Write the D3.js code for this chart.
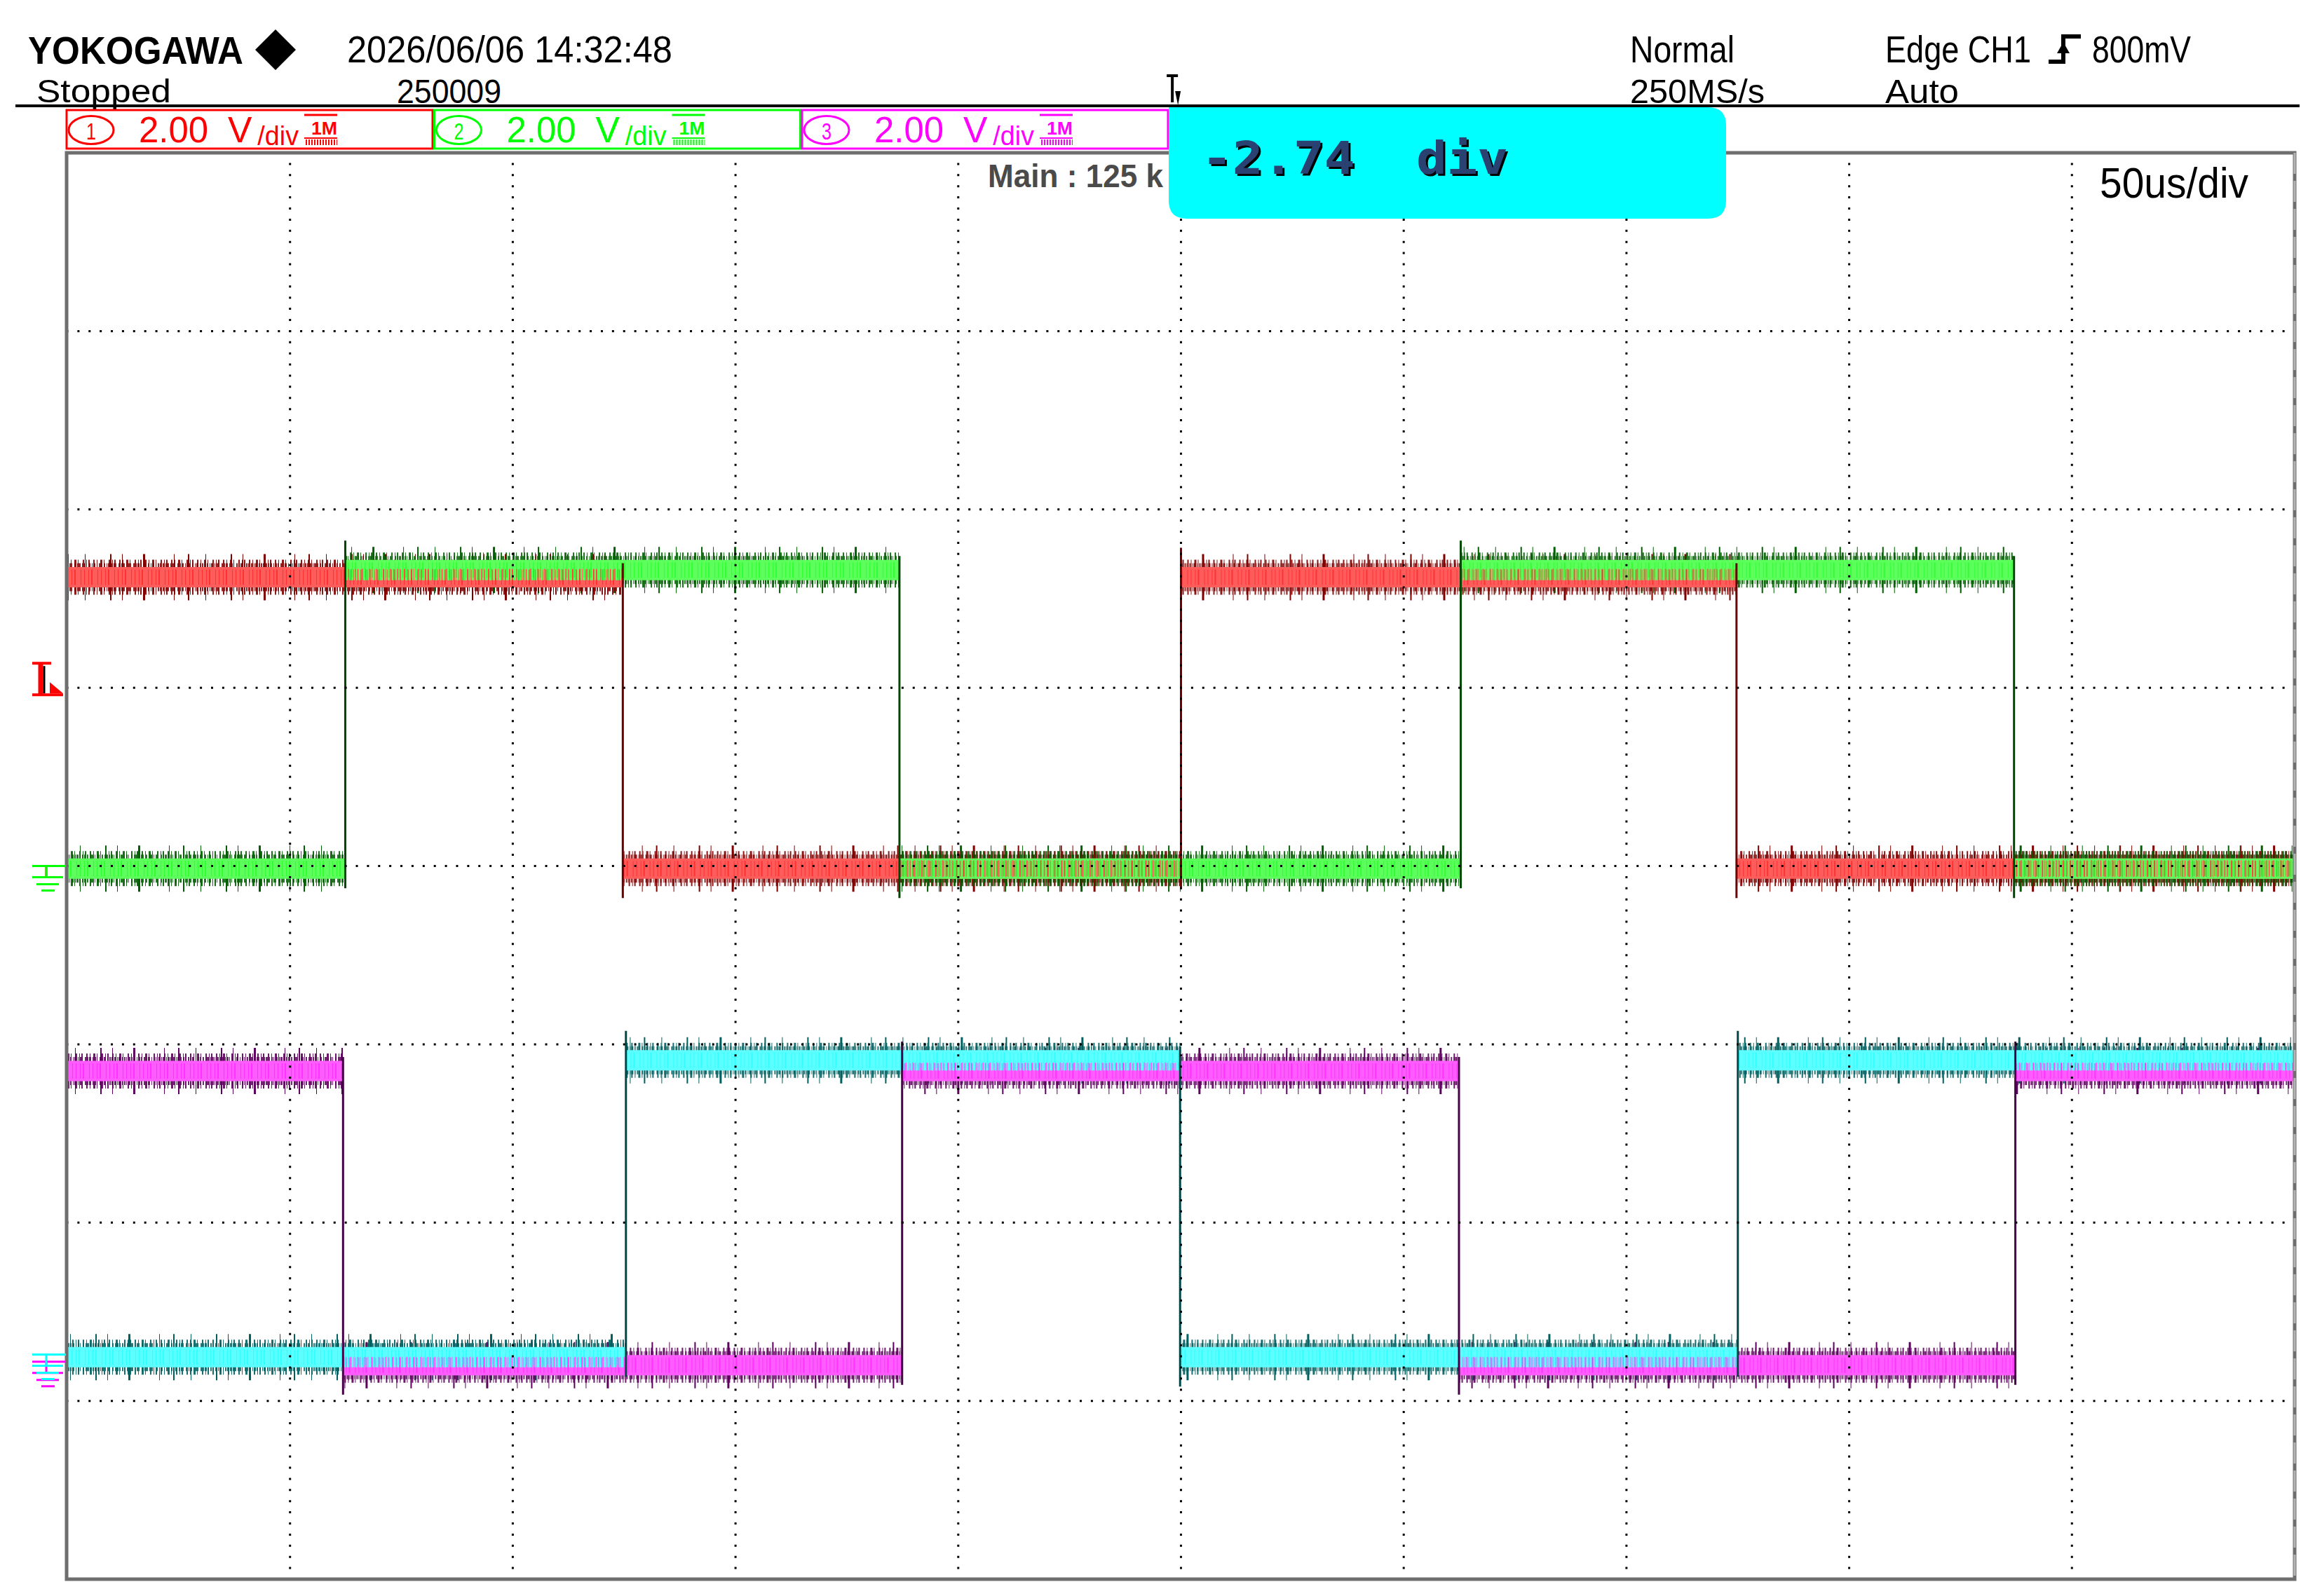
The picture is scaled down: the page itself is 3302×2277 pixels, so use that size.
<!DOCTYPE html>
<html>
<head>
<meta charset="utf-8">
<script src="https://cdn.jsdelivr.net/npm/d3@7"></script>
<style>
  body { margin: 0; background: #fff; }
  svg { display: block; }
</style>
</head>
<body>
<div id="scope"></div>
<script>
// Values
const timeSpan = [0, 500];            // us, 10 div x 50 us/div
const divSpan = [-4, 4];              // 8 vertical divisions
const voltsPerDiv = [2.00, 2.00, 2.00, 2.00];
const positionDiv = [0, 0, -2.78, -2.74];
const highVolts = [3.24, 3.32, 3.26, 3.30];
const lowVolts = [-0.03, -0.03, -0.04, -0.03];
const startState = [1, 0, 1, 0];      // 1 = high at left edge of screen
const ch1Edges = [124.7, 250.0, 374.7];
const ch2Edges = [62.4, 186.8, 312.8, 437.0];
const ch3Edges = [61.9, 187.4, 312.4, 437.3];
const ch4Edges = [125.4, 249.8, 375.0];
const trigTime = 249;                 // us
const trigLevelDiv = 0.98;
const boxLabels = ["2.00", "2.00", "2.00"];
const popupText = "-2.74  div";

const W = 3302, H = 2277;
const plot = { left: 96, right: 3273, top: 218, bottom: 2253 };
const FONT = "'Liberation Sans', Arial, sans-serif";

// channel colours: frame/text, trace core, trace noise, edge
const chColor = ["#ff0000", "#00ff00", "#ff00ff", "#00ffff"];
const coreColor = ["#ff5c5c", "#5cff5c", "#ff5cff", "#5cffff"];
const darkColor = ["#800000", "#005f00", "#5e005e", "#006060"];
const edgeColor = ["#6a0000", "#004800", "#480048", "#004848"];

const svg = d3.select("#scope")
  .append("svg")
  .attr("width", W)
  .attr("height", H);

svg.append("rect").attr("width", W).attr("height", H).attr("fill", "#fff");

// drop shadow for the popup readout
svg.append("defs")
  .append("filter")
  .attr("id", "shadow")
  .append("feDropShadow")
  .attr("dx", 3).attr("dy", 3)
  .attr("stdDeviation", 0)
  .attr("flood-color", "#000")
  .attr("flood-opacity", 1);

// Scales
const x = d3.scaleLinear().domain(timeSpan).range([plot.left, plot.right]);
const yDiv = d3.scaleLinear().domain(divSpan).range([plot.bottom, plot.top]);
const divW = x(50) - x(0);
const divH = yDiv(0) - yDiv(1);

const levelY = (i, v) => yDiv(positionDiv[i] + v / voltsPerDiv[i]);

function text(g, str, px, py, size, len, opts = {}) {
  const t = g.append("text")
    .attr("x", px)
    .attr("y", py)
    .attr("font-family", opts.family || FONT)
    .attr("font-size", size)
    .attr("font-weight", opts.weight || "normal")
    .attr("fill", opts.fill || "#000")
    .text(str);
  if (len) t.attr("textLength", len).attr("lengthAdjust", "spacingAndGlyphs");
  if (opts.pre) t.attr("xml:space", "preserve").style("white-space", "pre");
  return t;
}

// ---------- Header ----------
const head = svg.append("g");
text(head, "YOKOGAWA", 40, 91, 56, 307, { weight: "bold" });
head.append("path")
  .attr("d", "M393,42 L422,71 L393,100 L364,71 Z")
  .attr("fill", "#000");
text(head, "2026/06/06 14:32:48", 495, 89, 54, 464);
text(head, "Stopped", 52, 146, 46, 192);
text(head, "250009", 566, 147, 48, 149);
text(head, "Normal", 2325, 89, 54, 149);
text(head, "250MS/s", 2325, 147, 48, 192);
text(head, "Edge CH1", 2689, 89, 54, 208);
text(head, "800mV", 2984, 89, 54, 141);
text(head, "Auto", 2689, 147, 48, 105);

// rising-edge trigger icon
head.append("path")
  .attr("d", "M2922,88 H2943 V52 H2968")
  .attr("fill", "none")
  .attr("stroke", "#000")
  .attr("stroke-width", 6);
head.append("path")
  .attr("d", "M2934,76 L2943,60 L2952,76 Z")
  .attr("fill", "#000");

head.append("line")
  .attr("x1", 22).attr("x2", 3280)
  .attr("y1", 151).attr("y2", 151)
  .attr("stroke", "#000")
  .attr("stroke-width", 4);

// trigger position marker on top
const xt = x(trigTime);
head.append("path")
  .attr("d", `M${xt - 14},108 H${xt + 2} M${xt - 6},108 V146`)
  .attr("fill", "none")
  .attr("stroke", "#000")
  .attr("stroke-width", 4);
head.append("path")
  .attr("d", `M${xt - 2},130 L${xt + 6},130 L${xt + 2},150 Z`)
  .attr("fill", "#000");

// ---------- Channel boxes ----------
const boxes = svg.append("g");
boxLabels.forEach((lab, i) => {
  const bx = 95 + i * 524.5;
  const c = chColor[i];
  const g = boxes.append("g").attr("transform", `translate(${bx},0)`);
  g.append("rect")
    .attr("x", 0).attr("y", 157)
    .attr("width", 522).attr("height", 55)
    .attr("fill", "#fff")
    .attr("stroke", c)
    .attr("stroke-width", 3);
  g.append("ellipse")
    .attr("cx", 35).attr("cy", 185.5)
    .attr("rx", 32).attr("ry", 20)
    .attr("fill", "none")
    .attr("stroke", c)
    .attr("stroke-width", 3);
  text(g, String(i + 1), 28, 199, 34, 14, { fill: c });
  text(g, lab, 103, 203, 52, 99, { fill: c });
  const unit = text(g, "V", 230, 203, 52, 101, { fill: c });
  unit.append("tspan")
    .attr("dx", 8)
    .attr("dy", 4)
    .attr("font-size", 38)
    .text("/div");
  g.append("line")
    .attr("x1", 339).attr("x2", 386)
    .attr("y1", 164).attr("y2", 164)
    .attr("stroke", c).attr("stroke-width", 3);
  text(g, "1M", 349, 192, 26, 37, { fill: c, weight: "bold" });
  g.append("line")
    .attr("x1", 339).attr("x2", 386)
    .attr("y1", 197).attr("y2", 197)
    .attr("stroke", c).attr("stroke-width", 2);
  g.append("line")
    .attr("x1", 341).attr("x2", 386)
    .attr("y1", 203).attr("y2", 203)
    .attr("stroke", c).attr("stroke-width", 8)
    .attr("stroke-dasharray", "2 2");
});

// ---------- Traces ----------
const edgeLists = [ch1Edges, ch2Edges, ch3Edges, ch4Edges];

function buildSegments(edges, i) {
  const t = [timeSpan[0], ...edges, timeSpan[1]];
  return d3.range(t.length - 1).map(k => ({
    ch: i,
    t0: t[k],
    t1: t[k + 1],
    v: ((startState[i] + k) % 2) ? highVolts[i] : lowVolts[i]
  }));
}

const segs = edgeLists.map((e, i) => buildSegments(e, i));
const allSegs = segs.flat();
const transitions = segs.flatMap(list =>
  list.slice(1).map((s, k) => ({ ch: s.ch, t: s.t0, from: list[k].v, to: s.v }))
);

const traces = svg.append("g");

function bandLayer(data, width, colorArr, dash, opacity, offsetStep) {
  traces.append("g")
    .selectAll("line")
    .data(data)
    .enter()
    .append("line")
    .attr("x1", d => x(d.t0))
    .attr("x2", d => x(d.t1))
    .attr("y1", d => levelY(d.ch, d.v))
    .attr("y2", d => levelY(d.ch, d.v))
    .attr("stroke", d => colorArr[d.ch])
    .attr("stroke-width", width)
    .attr("stroke-dasharray", dash)
    .attr("stroke-dashoffset", d => d.ch * offsetStep + d.t0)
    .attr("opacity", opacity);
}

// tall sparse noise spikes, then dense fringe, then core
bandLayer(allSegs, 66, darkColor, "2 23 1 35 2 15 1 29 3 41 1 19", 1, 7);
bandLayer(allSegs, 50, darkColor, "2 3 1 4 3 2 1 6 2 3 1 2 2 5", 0.9, 5);
bandLayer(allSegs, 40, darkColor, "1 2 2 1 1 3 2 2 1 1 3 2", 0.85, 3);
bandLayer(allSegs, 29, coreColor, null, 1, 0);
// interleaved texture so overlapping channels mix like the scope raster
const texOrder = [3, 2, 1, 0].flatMap(c => allSegs.filter(s => s.ch === c));
bandLayer(texOrder, 24, coreColor, "2 3 1 4 2 2 1 5", 1, 4);
bandLayer(allSegs, 22, chColor, "1 5 1 3 2 7 1 4", 0.45, 6);

// switching edges with small overshoot
traces.append("g")
  .selectAll("line")
  .data(transitions)
  .enter()
  .append("line")
  .attr("x1", d => x(d.t))
  .attr("x2", d => x(d.t))
  .attr("y1", d => levelY(d.ch, d.from) + (d.to > d.from ? 28 : -20))
  .attr("y2", d => levelY(d.ch, d.to) + (d.to > d.from ? -42 : 42))
  .attr("stroke", d => edgeColor[d.ch])
  .attr("stroke-width", 3);

// ---------- Grid (dotted) ----------
const grid = svg.append("g");
grid.selectAll(".vgrid")
  .data(d3.range(1, 10).map(k => k * 50))
  .enter()
  .append("line")
  .attr("class", "vgrid")
  .attr("x1", d => x(d)).attr("x2", d => x(d))
  .attr("y1", plot.top).attr("y2", plot.bottom)
  .attr("stroke", "#000")
  .attr("stroke-width", 3)
  .attr("stroke-dasharray", `3 ${divH / 16 - 3}`)
  .attr("stroke-dashoffset", 1.5);
grid.selectAll(".hgrid")
  .data(d3.range(-3, 4))
  .enter()
  .append("line")
  .attr("class", "hgrid")
  .attr("x1", plot.left).attr("x2", plot.right)
  .attr("y1", d => yDiv(d)).attr("y2", d => yDiv(d))
  .attr("stroke", "#000")
  .attr("stroke-width", 3)
  .attr("stroke-dasharray", `3 ${divW / 20 - 3}`)
  .attr("stroke-dashoffset", 1.5);

// frame
svg.append("rect")
  .attr("x", plot.left - 1).attr("y", plot.top)
  .attr("width", plot.right - plot.left + 1)
  .attr("height", plot.bottom - plot.top)
  .attr("fill", "none")
  .attr("stroke", "#6e6e6e")
  .attr("stroke-width", 5);
svg.append("line")
  .attr("x1", plot.right).attr("x2", plot.right)
  .attr("y1", plot.top).attr("y2", plot.bottom)
  .attr("stroke", "#b4b4b4")
  .attr("stroke-width", 3)
  .attr("stroke-dasharray", "30 10");

// ---------- Left markers ----------
const marks = svg.append("g");
function ground(py, c) {
  marks.append("path")
    .attr("d", `M46,${py} H94 M66,${py} V${py + 16} M46,${py + 16} H90 M52,${py + 26} H84 M59,${py + 35} H78`)
    .attr("fill", "none")
    .attr("stroke", c)
    .attr("stroke-width", 3);
}
[0, 1, 2, 3].forEach(i => ground(yDiv(positionDiv[i]), chColor[i]));

const yt = yDiv(trigLevelDiv) + 5;
marks.append("path")
  .attr("d", `M46,${yt} H90 M46,${yt - 45} H73`)
  .attr("stroke", "#ff0000")
  .attr("stroke-width", 4);
marks.append("line")
  .attr("x1", 58).attr("x2", 58)
  .attr("y1", yt - 45).attr("y2", yt)
  .attr("stroke", "#ff0000").attr("stroke-width", 7);
marks.append("line")
  .attr("x1", 63).attr("x2", 63)
  .attr("y1", yt - 41).attr("y2", yt - 2)
  .attr("stroke", "#000").attr("stroke-width", 3);
marks.append("path")
  .attr("d", `M71,${yt - 18} L90,${yt - 2} L71,${yt - 2} Z`)
  .attr("fill", "#ff0000");

// ---------- Readouts ----------
text(svg, "Main : 125 k", 1409, 267, 46, 250, { weight: "bold", fill: "#4a4a4a" });
text(svg, "50us/div", 2995, 282, 62, 212);

// position popup for CH4
const p = { x0: 1667, y0: 153, x1: 2462, y1: 312, r: 26 };
svg.append("path")
  .attr("d", `M${p.x0},${p.y0} H${p.x1 - p.r} Q${p.x1},${p.y0} ${p.x1},${p.y0 + p.r}` +
             ` V${p.y1 - p.r} Q${p.x1},${p.y1} ${p.x1 - p.r},${p.y1}` +
             ` H${p.x0 + p.r} Q${p.x0},${p.y1} ${p.x0},${p.y1 - p.r} Z`)
  .attr("fill", "#00ffff");
const mono = "'DejaVu Sans Mono', 'Liberation Mono', monospace";
text(svg, popupText, 1714, 248, 64, 437, { family: mono, weight: "bold", fill: "#2b4272", pre: true })
  .attr("filter", "url(#shadow)");
</script>
</body>
</html>
